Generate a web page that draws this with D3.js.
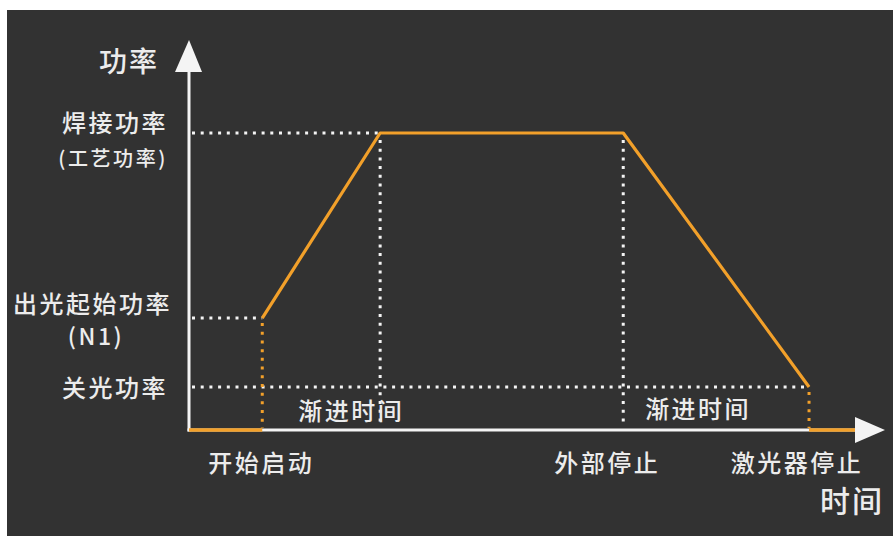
<!DOCTYPE html>
<html><head><meta charset="utf-8">
<script src="https://cdn.jsdelivr.net/npm/d3@7/dist/d3.min.js"></script>
<style>
html,body{margin:0;padding:0;background:#fff;}
svg{display:block;}
text{font-family:"Noto Sans CJK SC","Noto Sans",sans-serif;fill:#ececec;font-weight:500;}
</style></head>
<body>
<svg id="c" width="893" height="536"></svg>
<script>
// ---- data ----
const timeMarks = [
  {key:"origin", t:0},
  {key:"start", t:1.1, label:"开始启动"},
  {key:"rampUpEnd", t:2.87},
  {key:"extStop", t:6.52, label:"外部停止"},
  {key:"laserStop", t:9.31, label:"激光器停止"},
  {key:"axisEnd", t:10}
];
const powerLevels = [
  {key:"weld", p:100, label:"焊接功率", sub:"(工艺功率)"},
  {key:"n1", p:37.7, label:"出光起始功率", sub:"(N1)"},
  {key:"off", p:14.5, label:"关光功率"}
];
const rampLabels = ["渐进时间", "渐进时间"];
const axisTitles = {y:"功率", x:"时间"};
// power curve (time, power)
const curveTimes = [1.1, 2.87, 6.52, 9.31];
const curvePowers = [37.7, 100, 100, 14.5];

// ---- layout ----
const svg = d3.select("#c");
const W = 893, H = 536;
svg.append("rect").attr("x",7).attr("y",10).attr("width",W-7).attr("height",H-10).attr("fill","#323232");

const x = d3.scaleLinear().domain([0,10]).range([189,855]);
const y = d3.scaleLinear().domain([0,100]).range([430,133]);
const T = Object.fromEntries(timeMarks.map(d=>[d.key,d.t]));
const P = Object.fromEntries(powerLevels.map(d=>[d.key,d.p]));

const ORANGE = "#f2a02a", WHITE = "#f4f4f4";
const dash = "3,5.7";

// axes
const g = svg.append("g");
g.append("line").attr("x1",x(0)).attr("x2",x(0)).attr("y1",y(0)+1.5).attr("y2",72)
  .attr("stroke",WHITE).attr("stroke-width",3);
g.append("path").attr("d",`M${x(0)},40 L${x(0)-14},72 L${x(0)+13},72 Z`).attr("fill",WHITE);
g.append("line").attr("x1",x(0)-1.5).attr("x2",x(10)).attr("y1",y(0)).attr("y2",y(0))
  .attr("stroke",WHITE).attr("stroke-width",3);
g.append("path").attr("d",`M${x(10)+30},${y(0)} L${x(10)},${y(0)-13} L${x(10)},${y(0)+13} Z`).attr("fill",WHITE);

// white dotted guides
const dots = svg.append("g").attr("stroke",WHITE).attr("stroke-width",3).attr("stroke-dasharray",dash).attr("fill","none");
dots.append("line").attr("x1",x(0)+3).attr("x2",x(T.rampUpEnd)).attr("y1",y(P.weld)).attr("y2",y(P.weld));
dots.append("line").attr("x1",x(0)+3).attr("x2",x(T.start)).attr("y1",y(P.n1)).attr("y2",y(P.n1));
dots.append("line").attr("x1",x(0)+3).attr("x2",x(T.laserStop)).attr("y1",y(P.off)).attr("y2",y(P.off));
dots.append("line").attr("x1",x(T.rampUpEnd)).attr("x2",x(T.rampUpEnd)).attr("y1",y(P.weld)+7).attr("y2",y(0)-3);
dots.append("line").attr("x1",x(T.extStop)).attr("x2",x(T.extStop)).attr("y1",y(P.weld)+7).attr("y2",y(0)-3);

// orange dotted verticals
const od = svg.append("g").attr("stroke",ORANGE).attr("stroke-width",3).attr("stroke-dasharray",dash).attr("fill","none");
od.append("line").attr("x1",x(T.start)).attr("x2",x(T.start)).attr("y1",y(P.n1)+5).attr("y2",y(0)-2);
od.append("line").attr("x1",x(T.laserStop)).attr("x2",x(T.laserStop)).attr("y1",y(P.off)+5).attr("y2",y(0)-2);

// orange solid curve
const line = d3.line().x(d=>x(d[0])).y(d=>y(d[1]));
const curve = curveTimes.map((t,i)=>[t,curvePowers[i]]);
svg.append("path").attr("d",line(curve)).attr("fill","none").attr("stroke",ORANGE).attr("stroke-width",3.2).attr("stroke-linejoin","round");
svg.append("path").attr("d",line([[0,0],[T.start,0]])).attr("fill","none").attr("stroke",ORANGE).attr("stroke-width",3.5);
svg.append("path").attr("d",line([[T.laserStop,0],[T.axisEnd,0]])).attr("fill","none").attr("stroke",ORANGE).attr("stroke-width",3.5);

// texts
const txt = svg.append("g");
const LS = "2.5px";
// axis titles
txt.append("text").attr("x",159).attr("y",62).attr("dy","0.36em").attr("text-anchor","end")
  .attr("font-size",28).attr("letter-spacing","2px").text(axisTitles.y);
txt.append("text").attr("x",884).attr("y",501).attr("dy","0.36em").attr("text-anchor","end")
  .attr("font-size",30).attr("letter-spacing","2px").text(axisTitles.x);

// left labels
const lx = 168;
txt.append("text").attr("x",lx).attr("y",y(P.weld)-10).attr("dy","0.36em").attr("text-anchor","end")
  .attr("font-size",24).attr("letter-spacing",LS).text(powerLevels[0].label);
txt.append("text").attr("x",lx).attr("y",y(P.weld)+26).attr("dy","0.36em").attr("text-anchor","end")
  .attr("font-size",20).attr("letter-spacing","2.6px").text(powerLevels[0].sub);
txt.append("text").attr("x",lx+4).attr("y",y(P.n1)-14).attr("dy","0.36em").attr("text-anchor","end")
  .attr("font-size",24).attr("letter-spacing",LS).text(powerLevels[1].label);
txt.append("text").attr("x",96).attr("y",y(P.n1)+19).attr("dy","0.36em").attr("text-anchor","middle")
  .attr("font-size",23).attr("letter-spacing","2.5px").text(powerLevels[1].sub);
txt.append("text").attr("x",lx).attr("y",y(P.off)+1).attr("dy","0.36em").attr("text-anchor","end")
  .attr("font-size",24).attr("letter-spacing",LS).text(powerLevels[2].label);

// ramp labels
txt.append("text").attr("x",(x(T.start)+x(T.rampUpEnd))/2+30).attr("y",411).attr("dy","0.36em").attr("text-anchor","middle")
  .attr("font-size",24).attr("letter-spacing",LS).text(rampLabels[0]);
txt.append("text").attr("x",(x(T.extStop)+x(T.laserStop))/2-18).attr("y",409).attr("dy","0.36em").attr("text-anchor","middle")
  .attr("font-size",24).attr("letter-spacing",LS).text(rampLabels[1]);

// bottom labels
const offs = {start:-1, extStop:-16, laserStop:-12};
timeMarks.filter(d=>d.label).forEach(d=>{
  txt.append("text").attr("x",x(d.t)+offs[d.key]).attr("y",463).attr("dy","0.36em").attr("text-anchor","middle")
    .attr("font-size",24).attr("letter-spacing",LS).text(d.label);
});
</script>
</body></html>
